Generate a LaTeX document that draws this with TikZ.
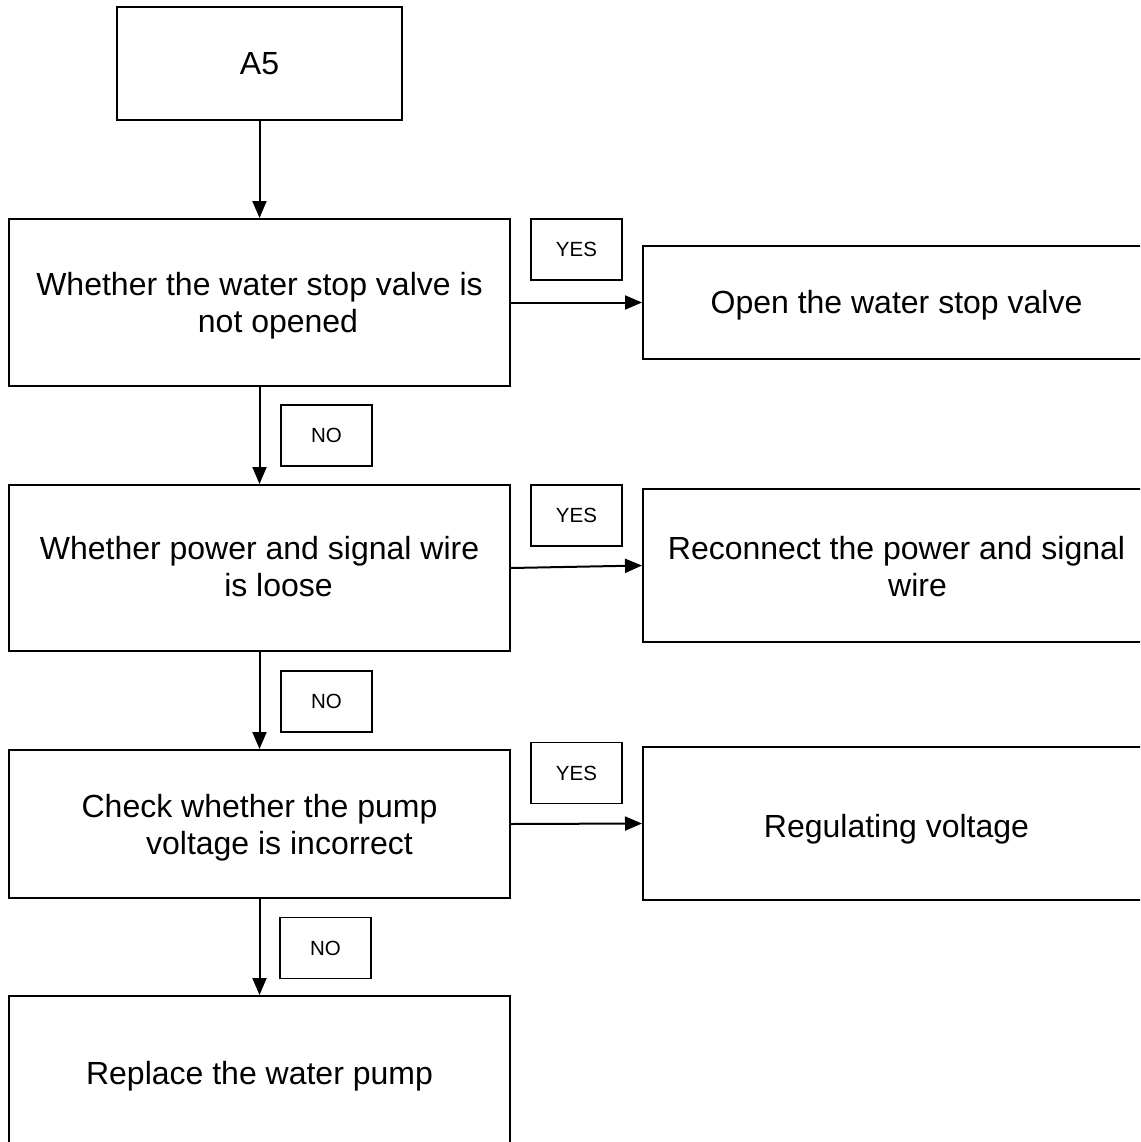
\documentclass[tikz,border=0pt]{standalone}
\usepackage{fontspec}
\setmainfont{Liberation Sans}
\usetikzlibrary{arrows.meta}
\newcommand{\boxtxt}[2]{\raisebox{-#1}[\height][\depth]{\begin{tabular}{@{}c@{}}#2\end{tabular}}}
\begin{document}
\begin{tikzpicture}[x=1pt,y=-1pt,
  box/.style={draw, line width=2pt, rectangle, align=center, inner sep=0pt,
    font=\fontsize{32}{37}\selectfont},
  tag/.style={draw, line width=1.6pt, rectangle, minimum width=91pt, minimum height=61pt,
    inner sep=0pt, font=\fontsize{20.5}{24}\selectfont},
  arr/.style={-{Triangle[length=17pt,width=14pt]}, line width=2pt}]
\useasboundingbox (0,0) rectangle (1140,1142);
\clip (0,0) rectangle (1140,1142);
\fill[white] (0,0) rectangle (1140,1142);

% left column
\node[box, minimum width=285pt, minimum height=113pt] (a5) at (259.5,63.5) {\boxtxt{3.5pt}{A5}};
\node[box, minimum width=501pt, minimum height=167pt] (q1) at (259.5,302.5)
  {\boxtxt{4pt}{Whether the water stop valve is\\\hspace*{37pt}not opened}};
\node[box, minimum width=501pt, minimum height=166pt] (q2) at (259.5,568)
  {\boxtxt{3pt}{Whether power and signal wire\\\hspace*{38pt}is loose}};
\node[box, minimum width=501pt, minimum height=148pt] (q3) at (259.5,824)
  {\boxtxt{5pt}{Check whether the pump\\\hspace*{40pt}voltage is incorrect}};
\node[box, minimum width=501pt, minimum height=154pt] (q4) at (259.5,1073)
  {\boxtxt{4pt}{Replace the water pump}};

% right column
\node[box, minimum width=507pt, minimum height=113pt] (r1) at (896.5,302.5)
  {\boxtxt{4pt}{Open the water stop valve}};
\node[box, minimum width=507pt, minimum height=153pt] (r2) at (896.5,565.5)
  {\boxtxt{5pt}{Reconnect the power and signal\\\hspace*{42pt}wire}};
\node[box, minimum width=507pt, minimum height=153pt] (r3) at (896.5,823.5)
  {\boxtxt{7pt}{Regulating voltage}};

% labels
\node[tag] (y1) at (576.5,249.5) {YES};
\node[tag] (y2) at (576.5,515.5) {YES};
\node[tag] (y3) at (576.5,773) {YES};
\node[tag] (n1) at (326.5,435.5) {NO};
\node[tag] (n2) at (326.5,701.5) {NO};
\node[tag] (n3) at (325.5,948) {NO};

% connectors
\draw[arr] (a5.south) -- (q1.north);
\draw[arr] (q1.south) -- (q2.north);
\draw[arr] (q2.south) -- (q3.north);
\draw[arr] (q3.south) -- (q4.north);
\draw[arr] (q1.east) -- (r1.west);
\draw[arr] (q2.east) -- (r2.west);
\draw[arr] (q3.east) -- (r3.west);
\end{tikzpicture}
\end{document}
